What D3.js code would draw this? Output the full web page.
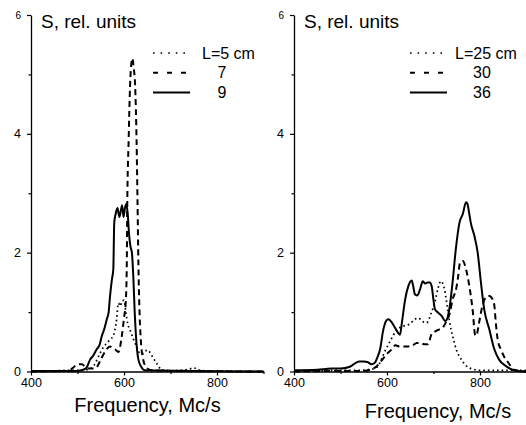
<!DOCTYPE html>
<html>
<head>
<meta charset="utf-8">
<script src="https://cdn.jsdelivr.net/npm/d3@7"></script>
<style>
  html, body { margin: 0; padding: 0; background: #fff; }
  svg { display: block; }
  text { font-family: "Liberation Sans", Arial, sans-serif; fill: #000; }
</style>
</head>
<body>
<svg id="chart" width="526" height="425"></svg>
<script>
// ---------- DATA ----------
const yTicksMajor = [0, 2, 4, 6];
const yTicksMinor = [1, 3, 5];
const xTicksMajor = [400, 600, 800];
const xTicksMinor = [500, 700, 900];
const yAxisTitle = "S, rel. units";
const xAxisTitle = "Frequency, Mc/s";

// Left panel
const leftLegend = ["L=5 cm", "7", "9"];
const f5 = [400, 450, 480, 500, 520, 535, 548, 555, 566, 572, 577, 584, 588, 592, 595, 600, 604, 608, 613, 620, 628, 635, 642, 649, 655, 659, 670, 681, 700, 720, 740, 750, 760, 780, 900];
const s5 = [0, 0.01, 0.02, 0.02, 0.03, 0.1, 0.3, 0.4, 0.5, 0.55, 0.6, 0.87, 1.15, 1.1, 1.17, 1.2, 1.0, 0.8, 0.7, 0.55, 0.4, 0.3, 0.3, 0.36, 0.33, 0.28, 0.14, 0.03, 0.01, 0.02, 0.04, 0.06, 0.03, 0.01, 0];
const f7 = [400, 480, 490, 500, 510, 516, 525, 535, 541, 550, 559, 570, 575, 581, 588, 595, 600, 604, 606, 607, 610, 613, 616, 618, 621, 624, 627, 629, 631, 633, 636, 640, 648, 660, 700, 900];
const s7 = [0, 0.01, 0.06, 0.12, 0.12, 0.08, 0.05, 0.05, 0.07, 0.2, 0.33, 0.42, 0.4, 0.37, 0.33, 0.58, 0.9, 1.2, 1.8, 2.8, 3.9, 4.8, 5.2, 5.27, 5.1, 4.8, 3.9, 2.9, 1.8, 1.1, 0.55, 0.25, 0.07, 0.02, 0.01, 0];
const f9 = [400, 450, 500, 512, 520, 527, 534, 541, 548, 552, 557, 563, 567, 570, 574, 577, 579, 582, 586, 590, 593, 596, 599, 602, 605, 608, 611, 614, 617, 620, 623, 627, 631, 637, 645, 900];
const s9 = [0.01, 0.01, 0.01, 0.03, 0.07, 0.2, 0.27, 0.37, 0.46, 0.59, 0.7, 0.88, 1.0, 1.27, 1.55, 1.72, 2.5, 2.65, 2.75, 2.6, 2.7, 2.8, 2.6, 2.75, 2.82, 2.65, 2.3, 2.1, 2.0, 1.6, 1.0, 0.46, 0.2, 0.08, 0.02, 0];

// Right panel
const rightLegend = ["L=25 cm", "30", "36"];
const f25 = [400, 450, 500, 540, 560, 578, 596, 606, 621, 634, 649, 660, 668, 675, 685, 695, 704, 710, 716, 720, 725, 731, 738, 743, 749, 760, 771, 785, 800, 900];
const s25 = [0, 0.01, 0.02, 0.02, 0.03, 0.07, 0.35, 0.5, 0.7, 0.76, 0.8, 0.88, 0.9, 0.85, 0.82, 0.98, 1.2, 1.41, 1.52, 1.48, 1.33, 1.01, 0.7, 0.54, 0.37, 0.2, 0.09, 0.04, 0.02, 0.02];
const f30 = [400, 500, 550, 563, 578, 590, 600, 610, 618, 628, 642, 653, 664, 671, 680, 688, 696, 705, 713, 720, 728, 735, 741, 749, 753, 757, 763, 770, 777, 784, 790, 793, 798, 805, 812, 820, 828, 831, 834, 838, 845, 852, 859, 866, 873, 885, 900];
const s30 = [0, 0.01, 0.01, 0.03, 0.09, 0.2, 0.3, 0.37, 0.44, 0.42, 0.42, 0.43, 0.48, 0.48, 0.46, 0.46, 0.63, 0.68, 0.71, 0.74, 0.85, 0.98, 1.21, 1.4, 1.6, 1.83, 1.86, 1.72, 1.44, 1.05, 0.6, 0.62, 0.82, 1.1, 1.24, 1.27, 1.2, 1.1, 0.82, 0.54, 0.37, 0.25, 0.17, 0.09, 0.03, 0.01, 0];
const f36 = [400, 450, 480, 500, 520, 528, 540, 550, 558, 567, 574, 580, 585, 592, 598, 603, 609, 614, 620, 624, 628, 632, 639, 646, 653, 656, 660, 665, 671, 677, 682, 687, 692, 696, 700, 703, 710, 718, 725, 729, 734, 741, 748, 756, 763, 770, 773, 777, 780, 788, 795, 802, 809, 820, 831, 841, 856, 870, 880, 900];
const s36 = [0.02, 0.03, 0.05, 0.05, 0.08, 0.12, 0.17, 0.17, 0.16, 0.12, 0.15, 0.25, 0.37, 0.7, 0.85, 0.88, 0.84, 0.78, 0.7, 0.65, 0.62, 0.82, 1.21, 1.44, 1.53, 1.45, 1.3, 1.28, 1.38, 1.52, 1.48, 1.5, 1.5, 1.44, 1.2, 1.05, 0.99, 0.93, 0.85, 0.88, 1.05, 1.5, 2.06, 2.51, 2.65, 2.85, 2.82, 2.65, 2.51, 2.28, 2.0, 1.5, 1.05, 0.71, 0.37, 0.2, 0.09, 0.03, 0.01, 0];

// ---------- DRAWING ----------
const svg = d3.select("#chart");
const FONT = '"Liberation Sans", Arial, sans-serif';

const styles = {
  dotted: { dash: "1.6,3", width: 1.7, legendDash: "1.6,6" },
  dashed: { dash: "6,4", width: 2, legendDash: "5,9" },
  solid:  { dash: null, width: 2, legendDash: null }
};

function drawPanel(opt) {
  const g = svg.append("g");
  const x = d3.scaleLinear().domain([400, 900]).range([opt.x0, opt.x0 + 232.5]);
  const y = d3.scaleLinear().domain([0, 6]).range([371.5, 15]);

  // x axis
  const xAxis = g.append("g").attr("transform", `translate(0,${y(0)})`)
    .call(d3.axisBottom(x).tickValues(xTicksMajor).tickFormat(d3.format("d"))
      .tickSize(4).tickSizeOuter(0).tickPadding(3));
  g.append("g").attr("transform", `translate(0,${y(0)})`)
    .call(d3.axisBottom(x).tickValues(xTicksMinor).tickSize(2.5).tickSizeOuter(0).tickFormat(""))
    .select(".domain").remove();
  xAxis.selectAll("text").attr("font-size", 12.5).attr("font-family", FONT).attr("dy", "0.71em");

  // y axis
  const yAxis = g.append("g").attr("transform", `translate(${opt.x0},0)`)
    .call(d3.axisLeft(y).tickValues(yTicksMajor).tickFormat(d3.format("d"))
      .tickSize(4).tickSizeOuter(0).tickPadding(6));
  g.append("g").attr("transform", `translate(${opt.x0},0)`)
    .call(d3.axisLeft(y).tickValues(yTicksMinor).tickSize(2.5).tickSizeOuter(0).tickFormat(""))
    .select(".domain").remove();
  yAxis.selectAll("text").attr("font-family", FONT)
    .attr("font-size", d => d === 6 ? 10 : 12.5);

  g.selectAll(".domain").attr("stroke", "#000").attr("stroke-width", 1.3);
  g.selectAll(".tick line").attr("stroke", "#000").attr("stroke-width", 1.2);

  // axis titles
  g.append("text").attr("x", opt.x0 + 10).attr("y", 27.5)
    .attr("font-size", 19).text(yAxisTitle);
  g.append("text").attr("x", opt.titleX).attr("y", opt.titleY)
    .attr("text-anchor", "middle").attr("font-size", 20).text(xAxisTitle);

  // curves
  const line = d3.line().x(d => x(d[0])).y(d => y(d[1])).curve(d3.curveMonotoneX);
  opt.series.forEach(s => {
    const st = styles[s.style];
    g.append("path")
      .datum(s.f.map((f, i) => [f, s.v[i]]))
      .attr("d", line)
      .attr("fill", "none")
      .attr("stroke", "#000")
      .attr("stroke-width", st.width)
      .attr("stroke-linejoin", "round")
      .attr("stroke-dasharray", st.dash);
  });

  // legend
  opt.series.forEach((s, i) => {
    const st = styles[s.style];
    const ly = 53 + i * 19.8;
    g.append("line")
      .attr("x1", opt.legX).attr("x2", opt.legX + 37)
      .attr("y1", ly).attr("y2", ly)
      .attr("stroke", "#000").attr("stroke-width", st.width)
      .attr("stroke-dasharray", st.legendDash);
    g.append("text")
      .attr("x", i === 0 ? opt.legTextX0 : opt.legTextX)
      .attr("y", ly + 5.5)
      .attr("font-size", 16)
      .text(opt.legend[i]);
  });
}

drawPanel({
  x0: 31, titleX: 147.5, titleY: 412,
  legX: 153, legTextX0: 202, legTextX: 217.5, legend: leftLegend,
  series: [
    { f: f5, v: s5, style: "dotted" },
    { f: f7, v: s7, style: "dashed" },
    { f: f9, v: s9, style: "solid" }
  ]
});

drawPanel({
  x0: 294, titleX: 438, titleY: 418,
  legX: 410, legTextX0: 455, legTextX: 473, legend: rightLegend,
  series: [
    { f: f25, v: s25, style: "dotted" },
    { f: f30, v: s30, style: "dashed" },
    { f: f36, v: s36, style: "solid" }
  ]
});
</script>
</body>
</html>
